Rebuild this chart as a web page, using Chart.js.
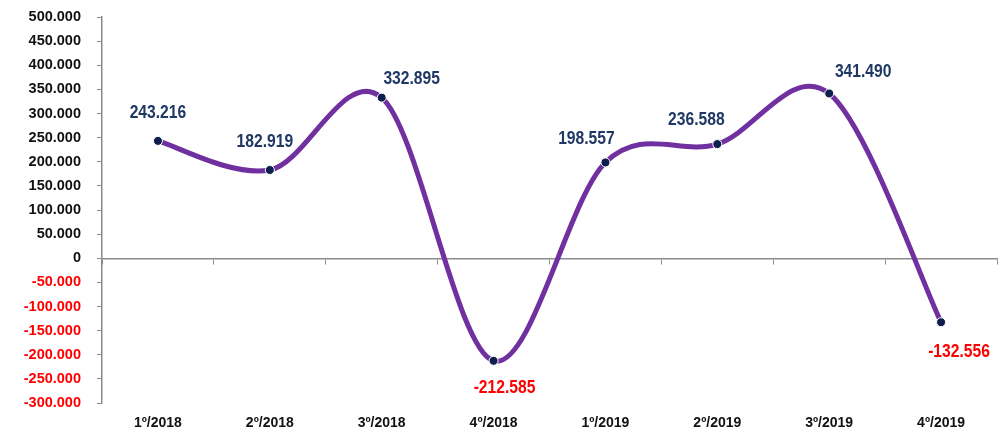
<!DOCTYPE html>
<html>
<head>
<meta charset="utf-8">
<script src="https://cdn.jsdelivr.net/npm/chart.js@4/dist/chart.umd.min.js"></script>
<style>
  html, body { margin: 0; padding: 0; background: #ffffff; }
  #wrap { width: 1007px; height: 437px; }
</style>
</head>
<body>
<div id="wrap"><canvas id="c" width="1007" height="437"></canvas></div>
<script>
// ---- data ----
const categories = ['1º/2018', '2º/2018', '3º/2018', '4º/2018', '1º/2019', '2º/2019', '3º/2019', '4º/2019'];
const values = [243216, 182919, 332895, -212585, 198557, 236588, 341490, -132556];
const yMin = -300000;
const yMax = 500000;
const yStep = 50000;

// ---- style ----
const labelOffsets = [[0, -28], [-5, -28], [30, -19], [11, 27], [-19, -23], [-21, -24], [34, -21], [18, 30]];
const axisGray = '#8c8c8c';
const purple = '#7030A0';
const navy = '#1F3864';
const red = '#FF0000';

function fmt(v) {
  const s = Math.abs(v).toString().replace(/\B(?=(\d{3})+(?!\d))/g, '.');
  return (v < 0 ? '-' : '') + s;
}

const excelSmooth = {
  id: 'excelSmooth',
  afterDatasetsUpdate(chart) {
    chart.getSortedVisibleDatasetMetas().forEach(meta => {
      const line = meta.dataset;
      const pts = meta.data;
      if (!line) return;
      line.updateControlPoints(chart.chartArea, 'x');
      for (let i = 0; i < pts.length; i++) {
        const p = pts[i];
        const prev = pts[Math.max(i - 1, 0)];
        const next = pts[Math.min(i + 1, pts.length - 1)];
        const dx = (next.x - prev.x) / 6, dy = (next.y - prev.y) / 6;
        p.cp1x = p.x - dx; p.cp1y = p.y - dy;
        p.cp2x = p.x + dx; p.cp2y = p.y + dy;
      }
    });
  }
};

const valueLabels = {
  id: 'valueLabels',
  afterDatasetsDraw(chart, args, opts) {
    const ctx = chart.ctx;
    const meta = chart.getDatasetMeta(0);
    const data = chart.data.datasets[0].data;
    meta.data.forEach((pt, i) => {
      const v = data[i];
      const off = opts.offsets[i] || [0, -25];
      ctx.save();
      ctx.font = opts.font;
      ctx.textAlign = 'center';
      ctx.textBaseline = 'middle';
      ctx.fillStyle = v < 0 ? red : navy;
      ctx.translate(pt.x + off[0], pt.y + off[1]);
      ctx.scale(opts.squeeze, 1);
      ctx.fillText(fmt(v), 0, 0);
      ctx.restore();
    });
  }
};

new Chart(document.getElementById('c'), {
  type: 'line',
  data: {
    labels: categories,
    datasets: [{
      data: values,
      borderColor: purple,
      borderWidth: 5,
      tension: 0.4,
      fill: false,
      pointRadius: 4.5,
      pointBackgroundColor: '#0E1F4D',
      pointBorderColor: '#ffffff',
      pointBorderWidth: 1,
      xAxisID: 'x',
      yAxisID: 'y'
    }]
  },
  options: {
    responsive: false,
    animation: false,
    events: [],
    layout: { padding: { top: 17, right: 10, left: 0, bottom: 0 } },
    plugins: {
      legend: { display: false },
      tooltip: { enabled: false },
      valueLabels: {
        font: 'bold 18px "Liberation Sans", Arial, sans-serif',
        squeeze: 0.87,
        offsets: labelOffsets
      }
    },
    scales: {
      x: {
        type: 'category',
        position: 'bottom',
        offset: true,
        grid: { display: false, drawTicks: false },
        border: { display: false },
        ticks: {
          padding: 12,
          color: '#111111',
          font: { family: '"Liberation Sans", Arial, sans-serif', size: 14, weight: 'bold' },
          maxRotation: 0,
          autoSkip: false
        },
        afterFit(scale) { scale.height = 34; }
      },
      xZero: {
        type: 'category',
        position: { y: 0 },
        offset: true,
        grid: {
          offset: true,
          drawOnChartArea: false,
          drawTicks: true,
          tickLength: 5,
          color: axisGray,
          lineWidth: 1
        },
        border: { display: true, color: axisGray, width: 1.5 },
        ticks: { display: false }
      },
      y: {
        type: 'linear',
        position: 'left',
        min: yMin,
        max: yMax,
        grid: {
          drawOnChartArea: false,
          drawTicks: true,
          tickLength: 5,
          color: axisGray,
          lineWidth: 1
        },
        border: { display: true, color: axisGray, width: 1.5 },
        ticks: {
          stepSize: yStep,
          padding: 16,
          color: ctx => (ctx.tick && ctx.tick.value < 0 ? red : '#111111'),
          font: { family: '"Liberation Sans", Arial, sans-serif', size: 14.5, weight: 'bold' },
          callback: v => fmt(v)
        },
        afterFit(scale) {
          scale.width = 102;
          scale.paddingTop = 9;
          scale.paddingBottom = 9;
        }
      }
    }
  },
  plugins: [excelSmooth, valueLabels]
});
</script>
</body>
</html>
